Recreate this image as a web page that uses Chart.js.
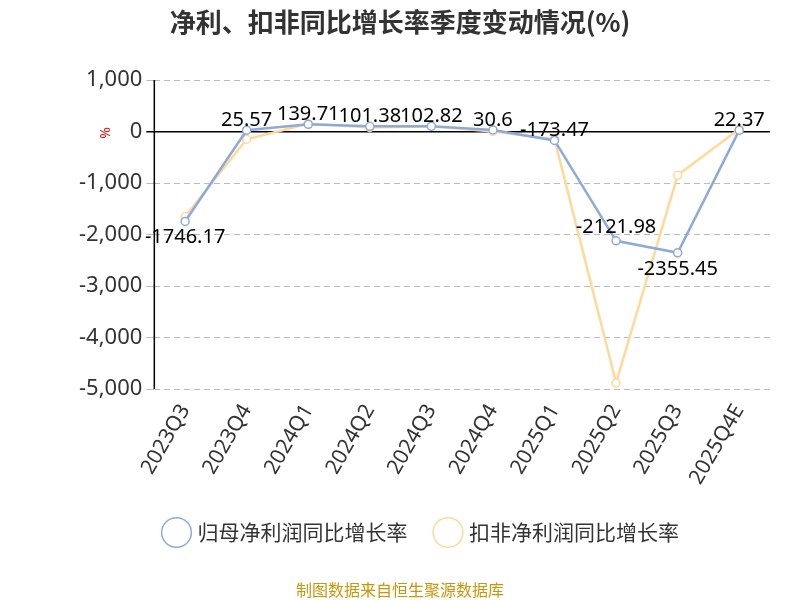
<!DOCTYPE html>
<html>
<head>
<meta charset="utf-8">
<script src="https://cdn.jsdelivr.net/npm/chart.js@4"></script>
<style>
body { margin: 0; background: #fff; }
#wrap { position: relative; width: 800px; height: 600px; }
</style>
</head>
<body>
<div id="wrap"><canvas id="chart" width="800" height="600"></canvas></div>
<script>
let labels = ['2023Q3', '2023Q4', '2024Q1', '2024Q2', '2024Q3', '2024Q4', '2025Q1', '2025Q2', '2025Q3', '2025Q4E'];
let netGrowth = [-1746.17, 25.57, 139.71, 101.38, 102.82, 30.6, -173.47, -2121.98, -2355.45, 22.37];
let deductGrowth = [-1650, -150, 150, 80, 100, 0, -150, -4880, -850, 50];
let yTicks = [1000, 0, -1000, -2000, -3000, -4000, -5000];

// 数据标签
let labelPlugin = {
    id: 'labels',
    afterDatasetsDraw(chart) {
        let ctx = chart.ctx;
        let meta = chart.getDatasetMeta(0);
        ctx.save();
        ctx.font = '20px "Noto Sans", sans-serif';
        ctx.fillStyle = '#000';
        ctx.textAlign = 'center';
        ctx.textBaseline = 'middle';
        meta.data.forEach(function (pt, i) {
            let v = netGrowth[i];
            let dy = (i == 0 || i == 8) ? 16 : -10;
            if (i == 7) dy = -14;
            ctx.fillText(String(v), pt.x, pt.y + dy);
        });
        ctx.restore();
    }
};

// 标题和其他文字
let textPlugin = {
    id: 'texts',
    afterDraw(chart) {
        let ctx = chart.ctx;
        let a = chart.chartArea;
        ctx.save();
        ctx.strokeStyle = '#000';
        ctx.lineWidth = 1.5;
        ctx.beginPath();
        ctx.moveTo(a.left, a.top);
        ctx.lineTo(a.left, a.bottom);
        ctx.stroke();
        ctx.textAlign = 'center';
        ctx.textBaseline = 'middle';
        ctx.fillStyle = '#333';
        ctx.font = 'bold 26px "Noto Sans CJK SC", sans-serif';
        ctx.fillText('净利、扣非同比增长率季度变动情况(%)', 400, 22);
        ctx.fillStyle = '#c8960a';
        ctx.font = '16px "Noto Sans CJK SC", sans-serif';
        ctx.fillText('制图数据来自恒生聚源数据库', 400, 590);
        ctx.translate(106, 133);
        ctx.rotate(-Math.PI / 2);
        ctx.fillStyle = '#e00';
        ctx.font = '14px "Noto Sans", sans-serif';
        ctx.fillText('%', 0, 0);
        ctx.restore();
    }
};

let legendMargin = {
    id: 'legendMargin',
    beforeInit(chart) {
        let orig = chart.legend.fit;
        chart.legend.fit = function () {
            orig.bind(chart.legend)();
            this.height += 45;
        };
    }
};

new Chart(document.getElementById('chart').getContext('2d'), {
    type: 'line',
    data: {
        labels: labels,
        datasets: [{
            label: '归母净利润同比增长率',
            data: netGrowth,
            borderColor: '#8eaadb',
            backgroundColor: '#fff',
            borderWidth: 2.5,
            pointRadius: 4,
            pointBorderWidth: 1.5,
            tension: 0
        }, {
            label: '扣非净利润同比增长率',
            data: deductGrowth,
            borderColor: '#ffd99a',
            backgroundColor: '#fff',
            borderWidth: 2.5,
            pointRadius: 4,
            pointBorderWidth: 1.5,
            tension: 0
        }]
    },
    options: {
        responsive: false,
        animation: false,
        layout: { padding: { top: 80, left: 75, right: 30, bottom: 2 } },
        plugins: {
            legend: {
                position: 'bottom',
                labels: {
                    usePointStyle: true,
                    pointStyle: 'circle',
                    boxWidth: 40,
                    padding: 30,
                    color: '#333',
                    font: { size: 21, family: '"Noto Sans CJK SC", sans-serif' }
                }
            },
            tooltip: { enabled: false }
        },
        scales: {
            x: {
                offset: true,
                grid: { display: false },
                border: { display: false },
                ticks: {
                    color: '#333',
                    maxRotation: 60,
                    minRotation: 60,
                    font: { size: 21, family: '"Noto Sans", sans-serif' }
                }
            },
            y: {
                min: -5000,
                max: 1000,
                afterBuildTicks(axis) { axis.ticks = yTicks.map(v => ({ value: v })); },
                border: { display: false, dash: ctx => ctx.tick && ctx.tick.value === 0 ? [] : [6, 4] },
                grid: {
                    color: ctx => ctx.tick && ctx.tick.value === 0 ? '#000' : '#bbb',
                    lineWidth: ctx => ctx.tick && ctx.tick.value === 0 ? 1.5 : 1,
                    tickLength: 8
                },
                ticks: {
                    color: '#333',
                    padding: 4,
                    font: { size: 22, family: '"Noto Sans", sans-serif' },
                    callback: v => v.toLocaleString('en-US')
                }
            }
        }
    },
    plugins: [labelPlugin, textPlugin, legendMargin]
});
</script>
</body>
</html>
